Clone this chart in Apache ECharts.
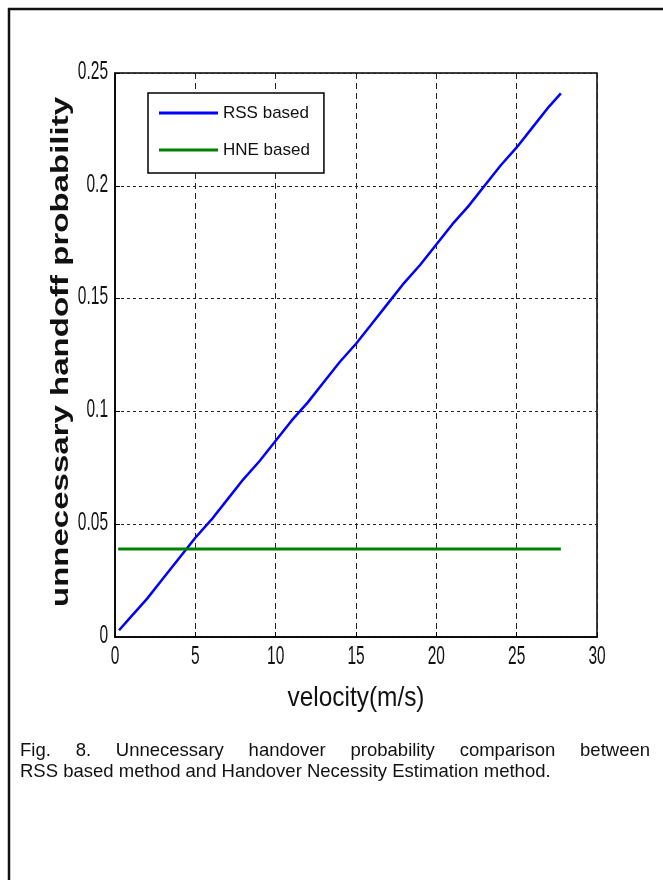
<!DOCTYPE html>
<html>
<head>
<meta charset="utf-8">
<script src="https://cdn.jsdelivr.net/npm/echarts@6/dist/echarts.min.js"></script>
<style>
html,body{margin:0;padding:0;background:#fff;}
#chart{width:663px;height:880px;}
</style>
</head>
<body>
<div id="chart"></div>
<script>
// ---- data ----
const velocity = [0.25, 1, 2, 3, 4, 5, 6, 7, 8, 9, 10, 11, 12, 13, 14, 15, 16, 17, 18, 19, 20, 21, 22, 23, 24, 25, 26, 27, 27.75];
const rssBased = [0.003, 0.009, 0.017, 0.026, 0.035, 0.044, 0.052, 0.061, 0.070, 0.078, 0.087, 0.096, 0.104, 0.113, 0.122, 0.130, 0.139, 0.148, 0.157, 0.165, 0.174, 0.183, 0.191, 0.200, 0.209, 0.217, 0.226, 0.235, 0.241];
const hneVelocity = [0.2, 27.75];
const hneBased = [0.039, 0.039];
const seriesNames = ['RSS based', 'HNE based'];
const xTicks = [0, 5, 10, 15, 20, 25, 30];
const xTickLabels = ['0', '5', '10', '15', '20', '25', '30'];
const yTicks = [0, 0.05, 0.1, 0.15, 0.2, 0.25];
const yTickLabels = ['0', '0.05', '0.1', '0.15', '0.2', '0.25'];
const xLabel = 'velocity(m/s)';
const yLabel = 'unnecessary handoff probability';
const captionLine1 = ['Fig.', '8.', 'Unnecessary', 'handover', 'probability', 'comparison', 'between'];
const captionLine2 = 'RSS based method and Handover Necessity Estimation method.';

const arial = "'Liberation Sans', Arial, sans-serif";
const ctx = document.createElement('canvas').getContext('2d');
function textWidth(t, font) { ctx.font = font; return ctx.measureText(t).width; }

const chart = echarts.init(document.getElementById('chart'), null, {renderer: 'canvas'});

chart.setOption({
  animation: false,
  backgroundColor: '#fff',
  grid: {left: 115, top: 73, right: 66, bottom: 243, show: true, borderColor: '#000', borderWidth: 1.5, backgroundColor: 'transparent'},
  legend: {
    orient: 'vertical', left: 148, top: 93,
    padding: [10, 14, 13, 11],
    itemGap: 17, itemWidth: 59, itemHeight: 3, icon: 'rect',
    borderColor: '#000', borderWidth: 1.5, backgroundColor: '#fff',
    textStyle: {fontFamily: arial, fontSize: 17, color: '#111', lineHeight: 20},
    data: seriesNames
  },
  xAxis: {
    type: 'value', min: 0, max: 30, interval: 5,
    axisLine: {show: true, lineStyle: {color: '#000', width: 1.5}},
    axisTick: {show: true, inside: true, length: 5, lineStyle: {color: '#000'}},
    axisLabel: {show: false},
    splitLine: {show: true, lineStyle: {color: '#222', type: [6, 4], width: 1}}
  },
  yAxis: {
    type: 'value', min: 0, max: 0.25, interval: 0.05,
    axisLine: {show: true, lineStyle: {color: '#000', width: 1.5}},
    axisTick: {show: true, inside: true, length: 5, lineStyle: {color: '#000'}},
    axisLabel: {show: false},
    splitLine: {show: true, lineStyle: {color: '#222', type: [3, 3], width: 1}}
  },
  series: [
    {name: seriesNames[0], type: 'line', symbol: 'none', data: velocity.map((v, i) => [v, rssBased[i]]),
     lineStyle: {color: '#0000ff', width: 2.5}, itemStyle: {color: '#0000ff'}},
    {name: seriesNames[1], type: 'line', symbol: 'none', data: hneVelocity.map((v, i) => [v, hneBased[i]]),
     lineStyle: {color: '#008000', width: 3}, itemStyle: {color: '#008000'}}
  ]
});

// ---- texts (condensed like the original figure) ----
const g = [];
g.push({type: 'line', shape: {x1: 8, y1: 9, x2: 663, y2: 9}, style: {stroke: '#111', lineWidth: 2.5}});
g.push({type: 'line', shape: {x1: 9, y1: 8, x2: 9, y2: 880}, style: {stroke: '#111', lineWidth: 2.5}});

const tickFont = '25px ' + arial;
const tickScale = 0.62;
xTicks.forEach((v, i) => {
  const p = chart.convertToPixel({xAxisIndex: 0, yAxisIndex: 0}, [v, 0]);
  g.push({type: 'text', x: p[0], y: 657, scaleX: tickScale,
    style: {text: xTickLabels[i], font: tickFont, fill: '#111', align: 'center', verticalAlign: 'middle'}});
});
yTicks.forEach((v, i) => {
  const p = chart.convertToPixel({xAxisIndex: 0, yAxisIndex: 0}, [0, v]);
  g.push({type: 'text', x: 108, y: p[1] - 1, scaleX: tickScale,
    style: {text: yTickLabels[i], font: tickFont, fill: '#111', align: 'right', verticalAlign: 'middle'}});
});

// x axis name
const xnFont = '28px ' + arial;
g.push({type: 'text', x: 356, y: 698, scaleX: 137 / textWidth(xLabel, xnFont),
  style: {text: xLabel, font: xnFont, fill: '#111', align: 'center', verticalAlign: 'middle'}});

// y axis name (rotated)
const ynFont = 'bold 24px ' + arial;
g.push({type: 'text', x: 61, y: 352, rotation: Math.PI / 2, scaleX: 510 / textWidth(yLabel, ynFont),
  style: {text: yLabel, font: ynFont, fill: '#111', align: 'center', verticalAlign: 'middle'}});

// caption, first line justified
const capFont = '18.5px ' + arial;
const capLeft = 20, capRight = 650;
const widths = captionLine1.map(w => textWidth(w, capFont));
const gap = (capRight - capLeft - widths.reduce((a, b) => a + b, 0)) / (captionLine1.length - 1);
let cx = capLeft;
captionLine1.forEach((w, i) => {
  g.push({type: 'text', x: cx, y: 751, style: {text: w, font: capFont, fill: '#111', verticalAlign: 'middle'}});
  cx += widths[i] + gap;
});
g.push({type: 'text', x: capLeft, y: 772, style: {text: captionLine2, font: capFont, fill: '#111', verticalAlign: 'middle'}});

chart.setOption({graphic: g});
</script>
</body>
</html>
